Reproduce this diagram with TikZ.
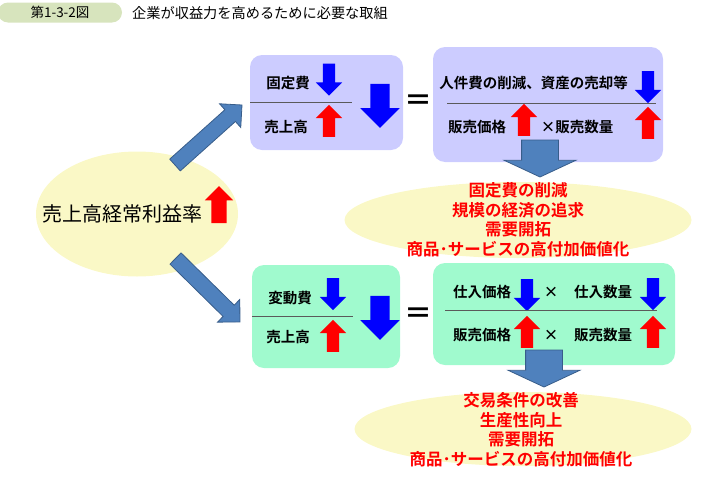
\documentclass[tikz,border=0pt]{standalone}
\usepackage{fontspec}
\setmainfont{Noto Sans CJK JP}[BoldFont={Noto Sans CJK JP Bold}]
\usetikzlibrary{shapes.geometric,shapes.arrows,calc}
\definecolor{FIGlavender}{RGB}{204,204,255}
\definecolor{FIGmint}{RGB}{160,250,206}
\definecolor{FIGcream}{RGB}{250,248,198}
\definecolor{FIGpill}{RGB}{215,228,189}
\definecolor{FIGsteelblue}{RGB}{79,129,189}
\definecolor{FIGsteeldark}{RGB}{56,93,138}
\definecolor{FIGgrey}{RGB}{90,90,90}
\tikzstyle{FIGbox}=[rectangle, rounded corners=12pt, inner sep=0pt]
\tikzstyle{FIGoval}=[ellipse, fill=FIGcream, inner sep=0pt]
\tikzstyle{FIGlabel}=[font=\bfseries\fontsize{14.5}{17}\selectfont, inner sep=0pt]
\tikzstyle{FIGresult}=[text=red, align=center, font=\bfseries\fontsize{16.5}{19.5}\selectfont]
\tikzstyle{FIGequal}=[font=\bfseries\fontsize{28}{28}\selectfont, inner sep=0pt]
\tikzstyle{FIGrule}=[draw=FIGgrey, line width=1pt]
\tikzstyle{FIGsmall}=[single arrow, draw=none, inner xsep=0pt, inner ysep=6pt, outer sep=0pt, minimum height=32pt, single arrow head extend=7pt]
\tikzstyle{FIGup}=[FIGsmall, fill=red, rotate=90]
\tikzstyle{FIGdown}=[FIGsmall, fill=blue, rotate=-90]
\tikzstyle{FIGbig}=[single arrow, fill=blue, inner xsep=0pt, inner ysep=9.5pt, minimum height=44pt, single arrow head extend=10pt, rotate=-90]
\tikzstyle{FIGsteel}=[single arrow, fill=FIGsteelblue, draw=FIGsteeldark, line width=0.8pt, inner xsep=0pt, inner ysep=7.5pt, outer sep=0pt, single arrow head extend=8pt]
\tikzstyle{FIGsteeldown}=[FIGsteel, inner ysep=18pt, single arrow head extend=17.5pt, single arrow tip angle=130]
% block arrow laid from one named point to another
\newcommand{\FIGblockarrow}[3][]{%
  \path let \p1=(#2), \p2=(#3), \n1={atan2(\y2-\y1,\x2-\x1)}, \n2={veclen(\x2-\x1,\y2-\y1)} in
    node[FIGsteel, #1, minimum height=\n2, rotate=\n1, anchor=tail] at (#2) {};}

\begin{document}
\begin{tikzpicture}[x=1pt, y=-1pt]
    \useasboundingbox (0,0) rectangle (701,482);
    % heading
    \node [FIGbox, fill=FIGpill, rounded corners=10pt, minimum width=124pt, minimum height=20pt] (fignum) at (60,12.5) {};
    \node [font=\fontsize{13.5}{16}\selectfont] at (fignum) {第1-3-2図};
    \node [anchor=west, inner sep=0pt, font=\fontsize{14.2}{16}\selectfont] (figtitle) at (132,13) {企業が収益力を高めるために必要な取組};

    % left oval
    \node [FIGoval, minimum width=202pt, minimum height=125pt] (ratio) at (137,214) {};
    \node [inner sep=0pt, font=\fontsize{20}{24}\selectfont] (ratiotext) at (122,214) {売上高経常利益率};
    \node [FIGup, minimum height=37pt, inner ysep=7.5pt, single arrow head extend=6.5pt] (ratioup) at (219,208.5) {};

    % upper row
    \node [FIGbox, fill=FIGlavender, minimum width=153pt, minimum height=95pt] (fixbox) at (326.5,102.5) {};
    \node [FIGlabel] (fixcost) at (288,83) {固定費};
    \node [FIGdown] at (329,76.5) {};
    \draw [FIGrule] (250,102) -- (352,102);
    \node [FIGlabel] (fixsales) at (286,127) {売上高};
    \node [FIGup] at (329,124) {};
    \node [FIGbig] (fixratio) at (380,101) {};
    \node [FIGequal] (fixeq) at (418,103) {＝};

    \node [FIGbox, fill=FIGlavender, minimum width=230pt, minimum height=115pt] (costbox) at (548,104.5) {};
    \node [FIGlabel] (costcut) at (533.5,83) {人件費の削減、資産の売却等};
    \node [FIGdown] at (648,84) {};
    \draw [FIGrule] (447,103) -- (656,103);
    \node [FIGlabel] (costprice) at (477,127) {販売価格};
    \node [FIGup] at (524,123) {};
    \node [FIGlabel] (costvolume) at (577,127) {×販売数量};
    \node [FIGup] at (648,126) {};

    \node [FIGoval, minimum width=347pt, minimum height=76pt] (fixoval) at (518,220) {};
    \node [FIGresult] (fixresult) at (518,219.5) {固定費の削減\\規模の経済の追求\\需要開拓\\商品･サービスの高付加価値化};

    % lower row
    \node [FIGbox, fill=FIGmint, minimum width=148pt, minimum height=103pt] (varbox) at (326,316.5) {};
    \node [FIGlabel] (varcost) at (290,298) {変動費};
    \node [FIGdown] at (333,291) {};
    \draw [FIGrule] (252,316) -- (353,316);
    \node [FIGlabel] (varsales) at (288,337) {売上高};
    \node [FIGup] at (333,339) {};
    \node [FIGbig] (varratio) at (380,313) {};
    \node [FIGequal] (vareq) at (418,316) {＝};

    \node [FIGbox, fill=FIGmint, minimum width=242pt, minimum height=102pt] (pricebox) at (554,314) {};
    \node [FIGlabel] (buyprice) at (482,292) {仕入価格};
    \node [FIGdown] at (527,292) {};
    \node [FIGlabel] at (551,292) {×};
    \node [FIGlabel] (buyvolume) at (603,292) {仕入数量};
    \node [FIGdown] at (653,291) {};
    \draw [FIGrule] (445,310) -- (657,310);
    \node [FIGlabel] (sellprice) at (482,335) {販売価格};
    \node [FIGup] at (527,335) {};
    \node [FIGlabel] at (551,335) {×};
    \node [FIGlabel] (sellvolume) at (603,335) {販売数量};
    \node [FIGup] at (653,335) {};

    \node [FIGoval, minimum width=337pt, minimum height=74pt] (varoval) at (523,429) {};
    \node [FIGresult] (varresult) at (521,429.5) {交易条件の改善\\生産性向上\\需要開拓\\商品･サービスの高付加価値化};

    % block arrows
    \coordinate (upstart) at (175,165);
    \coordinate (upend) at (242,105);
    \coordinate (downstart) at (175.5,258.5);
    \coordinate (downend) at (240,322);
    \coordinate (fixdrop) at (540,140);
    \coordinate (fixland) at (540,177);
    \coordinate (vardrop) at (544,350);
    \coordinate (varland) at (544,387);
    \FIGblockarrow{upstart}{upend}
    \FIGblockarrow{downstart}{downend}
    \FIGblockarrow[FIGsteeldown]{fixdrop}{fixland}
    \FIGblockarrow[FIGsteeldown]{vardrop}{varland}
\end{tikzpicture}
\end{document}
